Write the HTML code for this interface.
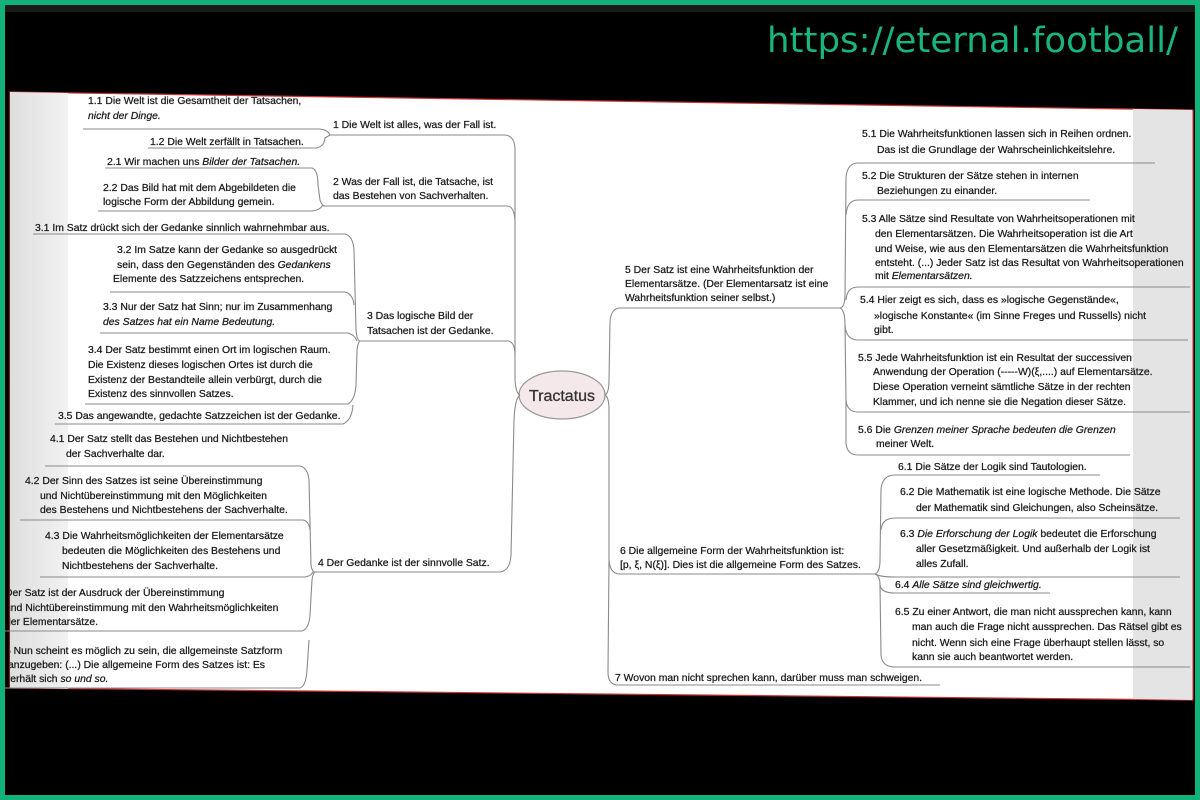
<!DOCTYPE html>
<html><head><meta charset="utf-8"><style>
html,body{margin:0;padding:0;background:#000;}
svg{display:block}
text{font-family:"Liberation Sans",sans-serif;font-size:10.4px;fill:#1a1a1a;stroke:#1a1a1a;stroke-width:0.25;}
.i{font-style:italic}
path.c{fill:none;stroke:#8a8a8a;stroke-width:1.1}
</style></head><body>
<svg width="1200" height="800" viewBox="0 0 1200 800" xmlns="http://www.w3.org/2000/svg">
<defs>
<linearGradient id="lg" x1="0" x2="1"><stop offset="0" stop-color="#dedede"/><stop offset="1" stop-color="#f2f2f2"/></linearGradient>
<clipPath id="pc"><polygon points="10,92 1193,110 1193,700 10,688"/></clipPath>
</defs>
<rect x="0" y="0" width="1200" height="800" fill="#000"/>
<rect x="0" y="0" width="1200" height="12" fill="#1a1a1a"/>
<polygon points="10,92 1193,110 1193,700 10,688" fill="#fff" stroke="#c33" stroke-width="1.2"/>
<polygon points="10,92 68,93 68,689 10,688" fill="url(#lg)"/>
<polygon points="1133,109 1192,110 1192,700 1133,699" fill="#e4e4e4"/>
<text x="767" y="52" textLength="411" lengthAdjust="spacingAndGlyphs" style="font-family:'DejaVu Sans',sans-serif;font-size:35px;fill:#19b57f;stroke:none">https://eternal.football/</text>

<ellipse cx="562" cy="395" rx="43" ry="24" fill="#f4e8ea" stroke="#999" stroke-width="1.3"/>
<text x="562" y="401" text-anchor="middle" style="font-size:16px;fill:#333;stroke:#333;stroke-width:0.3">Tractatus</text>

<path class="c" d="M330,135 L505,135 Q515,136 515,150 L515,380 Q516,394 520,395"/>
<path class="c" d="M325,206 L508,206 Q514,207 515,220"/>
<path class="c" d="M360,341 L508,341 Q515,342 515,355"/>
<path class="c" d="M315,572 L500,572 Q510,571 511,555 L514,420 Q515,398 520,395"/>
<path class="c" d="M83,129 L320,129 Q328,130 330,135"/>
<path class="c" d="M148,148 L316,148 Q324,147 325,138 L330,135"/>
<path class="c" d="M105,168 L312,168 Q318,170 318,185 L320,200 Q322,206 325,206"/>
<path class="c" d="M98,211 L312,211 Q320,210 322,206 L325,206"/>
<path class="c" d="M33,234 L345,234 Q353,236 354,250 L356,330 Q357,341 360,341"/>
<path class="c" d="M110,292 L345,292 Q353,294 354,305"/>
<path class="c" d="M100,333 L348,333 Q355,335 357,341"/>
<path class="c" d="M85,404 L348,404 Q355,400 356,385 L357,350 Q358,342 360,341"/>
<path class="c" d="M55,424 L343,424 Q352,420 353,405"/>
<path class="c" d="M45,466 L300,466 Q308,468 309,480 L311,565 Q312,572 315,572"/>
<path class="c" d="M20,520 L303,520 Q309,521 310,530"/>
<path class="c" d="M40,577 L305,577 Q311,576 313,572"/>
<path class="c" d="M5,631 L302,631 Q309,629 310,615 L312,580 Q313,573 315,572"/>
<path class="c" d="M5,688 L300,688 Q306,686 307,670 L309,640"/>

<path class="c" d="M605,395 Q609,393 609,380 L610,322 Q611,308 620,308 L840,308"/>
<path class="c" d="M605,395 Q609,397 609,410 L609,560 Q610,574 620,574 L875,574"/>
<path class="c" d="M609,560 L608,672 Q608,685 618,685 L940,685"/>
<path class="c" d="M840,308 Q845,307 845,295 L846,178 Q847,163 858,163 L1155,163"/>
<path class="c" d="M846,215 Q847,200 858,200 L1090,200"/>
<path class="c" d="M846,300 Q847,287 858,287 L1190,287"/>
<path class="c" d="M840,308 Q845,310 845,325 Q846,340 858,340 L1188,340"/>
<path class="c" d="M845,325 L846,400 Q847,412 858,412 L1190,412"/>
<path class="c" d="M846,400 L846,443 Q847,455 858,455 L1130,455"/>
<path class="c" d="M875,574 Q880,572 880,560 L881,490 Q882,475 895,475 L1100,475"/>
<path class="c" d="M881,530 Q882,518 895,518 L1180,518"/>
<path class="c" d="M875,574 Q880,577 895,577 L1180,577"/>
<path class="c" d="M875,574 Q880,576 880,585 Q881,593 895,593 L1050,593"/>
<path class="c" d="M880,585 L881,655 Q882,667 895,667 L1190,667"/>

<g clip-path="url(#pc)">
<text x="88" y="104">1.1 Die Welt ist die Gesamtheit der Tatsachen,</text>
<text x="88" y="119" class="i">nicht der Dinge.</text>
<text x="333" y="128">1 Die Welt ist alles, was der Fall ist.</text>
<text x="150" y="145">1.2 Die Welt zerfällt in Tatsachen.</text>
<text x="107" y="165">2.1 Wir machen uns <tspan class="i">Bilder der Tatsachen.</tspan></text>
<text x="103" y="191">2.2 Das Bild hat mit dem Abgebildeten die</text>
<text x="103" y="205">logische Form der Abbildung gemein.</text>
<text x="333" y="185">2 Was der Fall ist, die Tatsache, ist</text>
<text x="333" y="199">das Bestehen von Sachverhalten.</text>
<text x="35" y="231">3.1 Im Satz drückt sich der Gedanke sinnlich wahrnehmbar aus.</text>
<text x="117" y="253">3.2 Im Satze kann der Gedanke so ausgedrückt</text>
<text x="117" y="268">sein, dass den Gegenständen des <tspan class="i">Gedankens</tspan></text>
<text x="113" y="282">Elemente des Satzzeichens entsprechen.</text>
<text x="103" y="310">3.3 Nur der Satz hat Sinn; nur im Zusammenhang</text>
<text x="103" y="325" class="i">des Satzes hat ein Name Bedeutung.</text>
<text x="367" y="319">3 Das logische Bild der</text>
<text x="367" y="334">Tatsachen ist der Gedanke.</text>
<text x="88" y="353">3.4 Der Satz bestimmt einen Ort im logischen Raum.</text>
<text x="88" y="368">Die Existenz dieses logischen Ortes ist durch die</text>
<text x="88" y="383">Existenz der Bestandteile allein verbürgt, durch die</text>
<text x="88" y="397">Existenz des sinnvollen Satzes.</text>
<text x="58" y="419">3.5 Das angewandte, gedachte Satzzeichen ist der Gedanke.</text>
<text x="50" y="442">4.1 Der Satz stellt das Bestehen und Nichtbestehen</text>
<text x="66" y="457">der Sachverhalte dar.</text>
<text x="25" y="484">4.2 Der Sinn des Satzes ist seine Übereinstimmung</text>
<text x="40" y="499">und Nichtübereinstimmung mit den Möglichkeiten</text>
<text x="40" y="513">des Bestehens und Nichtbestehens der Sachverhalte.</text>
<text x="45" y="539">4.3 Die Wahrheitsmöglichkeiten der Elementarsätze</text>
<text x="62" y="554">bedeuten die Möglichkeiten des Bestehens und</text>
<text x="62" y="569">Nichtbestehens der Sachverhalte.</text>
<text x="318" y="566">4 Der Gedanke ist der sinnvolle Satz.</text>
<text x="5" y="596">Der Satz ist der Ausdruck der Übereinstimmung</text>
<text x="5" y="611">und Nichtübereinstimmung mit den Wahrheitsmöglichkeiten</text>
<text x="5" y="625">der Elementarsätze.</text>
<text x="5" y="654">5 Nun scheint es möglich zu sein, die allgemeinste Satzform</text>
<text x="8" y="668">anzugeben: (...) Die allgemeine Form des Satzes ist: Es</text>
<text x="5" y="682">verhält sich <tspan class="i">so und so.</tspan></text>

<text x="625" y="273">5 Der Satz ist eine Wahrheitsfunktion der</text>
<text x="625" y="287">Elementarsätze. (Der Elementarsatz ist eine</text>
<text x="625" y="301">Wahrheitsfunktion seiner selbst.)</text>
<text x="862" y="137">5.1 Die Wahrheitsfunktionen lassen sich in Reihen ordnen.</text>
<text x="877" y="153">Das ist die Grundlage der Wahrscheinlichkeitslehre.</text>
<text x="862" y="179">5.2 Die Strukturen der Sätze stehen in internen</text>
<text x="877" y="194">Beziehungen zu einander.</text>
<text x="862" y="222">5.3 Alle Sätze sind Resultate von Wahrheitsoperationen mit</text>
<text x="875" y="237">den Elementarsätzen. Die Wahrheitsoperation ist die Art</text>
<text x="875" y="252">und Weise, wie aus den Elementarsätzen die Wahrheitsfunktion</text>
<text x="875" y="266">entsteht. (...) Jeder Satz ist das Resultat von Wahrheitsoperationen</text>
<text x="875" y="279">mit <tspan class="i">Elementarsätzen.</tspan></text>
<text x="860" y="303">5.4 Hier zeigt es sich, dass es »logische Gegenstände«,</text>
<text x="874" y="319">»logische Konstante« (im Sinne Freges und Russells) nicht</text>
<text x="874" y="333">gibt.</text>
<text x="858" y="361">5.5 Jede Wahrheitsfunktion ist ein Resultat der successiven</text>
<text x="873" y="375">Anwendung der Operation (-----W)(ξ,....) auf Elementarsätze.</text>
<text x="873" y="390">Diese Operation verneint sämtliche Sätze in der rechten</text>
<text x="873" y="405">Klammer, und ich nenne sie die Negation dieser Sätze.</text>
<text x="858" y="433">5.6 Die <tspan class="i">Grenzen meiner Sprache bedeuten die Grenzen</tspan></text>
<text x="876" y="447">meiner Welt.</text>
<text x="620" y="554">6 Die allgemeine Form der Wahrheitsfunktion ist:</text>
<text x="620" y="568">[p, ξ, N(ξ)]. Dies ist die allgemeine Form des Satzes.</text>
<text x="898" y="470">6.1 Die Sätze der Logik sind Tautologien.</text>
<text x="900" y="495">6.2 Die Mathematik ist eine logische Methode. Die Sätze</text>
<text x="916" y="511">der Mathematik sind Gleichungen, also Scheinsätze.</text>
<text x="900" y="537">6.3 <tspan class="i">Die Erforschung der Logik</tspan> bedeutet die Erforschung</text>
<text x="916" y="552">aller Gesetzmäßigkeit. Und außerhalb der Logik ist</text>
<text x="916" y="567">alles Zufall.</text>
<text x="895" y="588">6.4 <tspan class="i">Alle Sätze sind gleichwertig.</tspan></text>
<text x="895" y="615">6.5 Zu einer Antwort, die man nicht aussprechen kann, kann</text>
<text x="912" y="630">man auch die Frage nicht aussprechen. Das Rätsel gibt es</text>
<text x="912" y="646">nicht. Wenn sich eine Frage überhaupt stellen lässt, so</text>
<text x="912" y="660">kann sie auch beantwortet werden.</text>
<text x="615" y="681">7 Wovon man nicht sprechen kann, darüber muss man schweigen.</text>
</g>

<rect x="2.5" y="2.5" width="1195" height="795" fill="none" stroke="#12b27a" stroke-width="5"/>
</svg>
</body></html>
